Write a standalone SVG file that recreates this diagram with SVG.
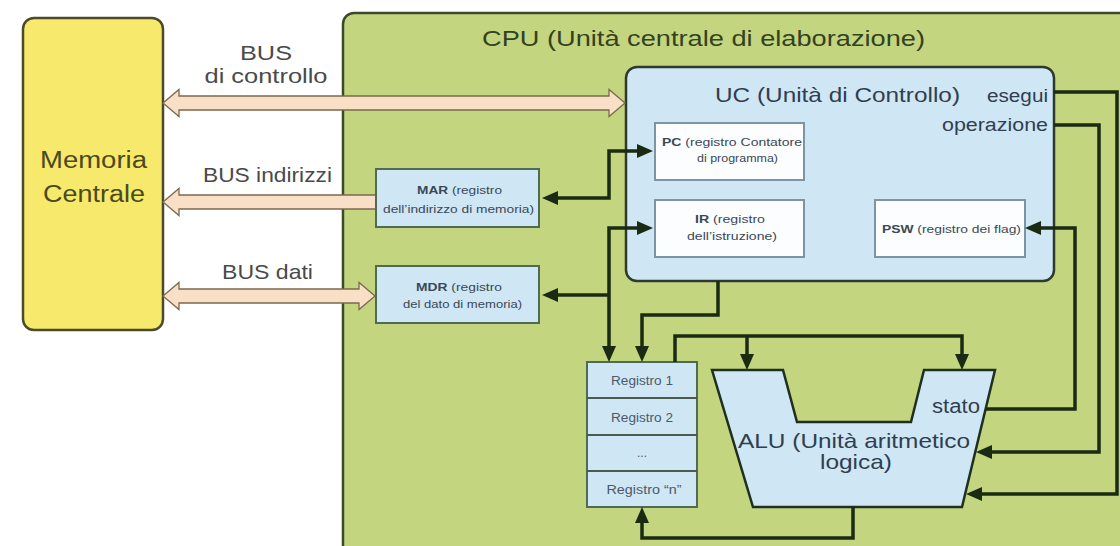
<svg xmlns="http://www.w3.org/2000/svg" width="1120" height="546" viewBox="0 0 1120 546">
  <style>
    .lbl { font-family: "Liberation Sans", Arial, sans-serif; }
    .big { font-size: 21px; }
    .small { font-size: 11.5px; fill: #3b4856; }
    .reg { font-size: 12px; fill: #4a5a6a; }
    .bus { fill: #f9dfc6; stroke: #7a6a50; stroke-width: 1.3; stroke-linejoin: miter; }
    .wire { fill: none; stroke: #1b2a12; stroke-width: 3.5; stroke-linejoin: miter; }
    .inner { fill: #fbfdff; stroke: #7f93a3; stroke-width: 2; }
    .blue { fill: #cfe6f5; stroke: #4f6a55; stroke-width: 2; }
  </style>
  <defs>
    <marker id="ah" viewBox="0 0 16 14" refX="6" refY="7" markerWidth="16" markerHeight="14" markerUnits="userSpaceOnUse" orient="auto-start-reverse">
      <path d="M0,0 L16,7 L0,14 z" fill="#1b2a12"/>
    </marker>
  </defs>

  <rect x="0" y="0" width="1120" height="546" fill="#ffffff"/>

  <!-- Main memory -->
  <g id="memoria">
    <rect x="23" y="18" width="140" height="312" rx="11" fill="#f7e96b" stroke="#4c4a2c" stroke-width="2.5"/>
    <text class="lbl" x="40" y="168" font-size="23" fill="#4b4a1e" textLength="107" lengthAdjust="spacingAndGlyphs">Memoria</text>
    <text class="lbl" x="43" y="202" font-size="23" fill="#4b4a1e" textLength="102" lengthAdjust="spacingAndGlyphs">Centrale</text>
  </g>

  <!-- CPU enclosure -->
  <g id="cpu">
    <rect x="343" y="13" width="800" height="560" rx="11" fill="#c3d67f" stroke="#3c4a28" stroke-width="2.5"/>
    <text class="lbl" x="482" y="46" font-size="22" fill="#34421e" textLength="443" lengthAdjust="spacingAndGlyphs">CPU (Unità centrale di elaborazione)</text>
  </g>

  <!-- Control unit -->
  <g id="uc">
    <rect x="626" y="67" width="428" height="214" rx="11" fill="#cfe6f5" stroke="#2e3a2e" stroke-width="2.5"/>
    <text class="lbl big" x="715" y="102" fill="#2f3f4f" textLength="245" lengthAdjust="spacingAndGlyphs">UC (Unità di Controllo)</text>
    <text class="lbl" x="987" y="102" font-size="18" fill="#2f3f4f" textLength="61" lengthAdjust="spacingAndGlyphs">esegui</text>
    <text class="lbl" x="942" y="131" font-size="18" fill="#2f3f4f" textLength="106" lengthAdjust="spacingAndGlyphs">operazione</text>
  </g>

  <g id="pc">
    <rect class="inner" x="655" y="123" width="149" height="57"/>
    <text class="lbl small" x="662" y="146" textLength="140" lengthAdjust="spacingAndGlyphs"><tspan font-weight="bold">PC</tspan> (registro Contatore</text>
    <text class="lbl small" x="697" y="162" textLength="81" lengthAdjust="spacingAndGlyphs">di programma)</text>
  </g>

  <g id="ir">
    <rect class="inner" x="655" y="200" width="149" height="57"/>
    <text class="lbl small" x="695" y="223" textLength="70" lengthAdjust="spacingAndGlyphs"><tspan font-weight="bold">IR</tspan> (registro</text>
    <text class="lbl small" x="687" y="240" textLength="90" lengthAdjust="spacingAndGlyphs">dell’istruzione)</text>
  </g>

  <g id="psw">
    <rect class="inner" x="875" y="200" width="150" height="57"/>
    <text class="lbl small" x="882" y="233" textLength="139" lengthAdjust="spacingAndGlyphs"><tspan font-weight="bold">PSW</tspan> (registro dei flag)</text>
  </g>

  <!-- Buses between memory and CPU -->
  <g id="buses">
    <polygon class="bus" points="163,103 179,89.5 179,96 609,96 609,89.5 625,103 609,116.5 609,110 179,110 179,116.5"/>
    <polygon class="bus" points="163,202 179,188.5 179,195 377,195 377,209 179,209 179,215.5"/>
    <polygon class="bus" points="163,296 179,282.5 179,289 359,289 359,282.5 375,296 359,309.5 359,303 179,303 179,309.5"/>
    <text class="lbl" x="266" y="60" text-anchor="middle" font-size="21" fill="#4a4a4a" textLength="52" lengthAdjust="spacingAndGlyphs">BUS</text>
    <text class="lbl" x="266" y="83" text-anchor="middle" font-size="21" fill="#4a4a4a" textLength="123" lengthAdjust="spacingAndGlyphs">di controllo</text>
    <text class="lbl" x="203" y="182" font-size="21" fill="#4a4a4a" textLength="129" lengthAdjust="spacingAndGlyphs">BUS indirizzi</text>
    <text class="lbl" x="222" y="279" font-size="21" fill="#4a4a4a" textLength="91" lengthAdjust="spacingAndGlyphs">BUS dati</text>
  </g>

  <g id="mar">
    <rect class="blue" x="376" y="169" width="163" height="58"/>
    <text class="lbl small" x="417" y="194" textLength="85" lengthAdjust="spacingAndGlyphs"><tspan font-weight="bold">MAR</tspan> (registro</text>
    <text class="lbl small" x="383" y="213" textLength="151" lengthAdjust="spacingAndGlyphs">dell’indirizzo di memoria)</text>
  </g>

  <g id="mdr">
    <rect class="blue" x="376" y="266" width="163" height="57"/>
    <text class="lbl small" x="416" y="291" textLength="86" lengthAdjust="spacingAndGlyphs"><tspan font-weight="bold">MDR</tspan> (registro</text>
    <text class="lbl small" x="403" y="308" textLength="119" lengthAdjust="spacingAndGlyphs">del dato di memoria)</text>
  </g>

  <!-- General purpose register file -->
  <g id="registri">
    <rect class="blue" x="587" y="362" width="110" height="145" stroke="#4a5a50"/>
    <line x1="587" y1="398" x2="697" y2="398" stroke="#4a5a50" stroke-width="2"/>
    <line x1="587" y1="435" x2="697" y2="435" stroke="#4a5a50" stroke-width="2"/>
    <line x1="587" y1="471" x2="697" y2="471" stroke="#4a5a50" stroke-width="2"/>
    <text class="lbl reg" x="642" y="385" text-anchor="middle" textLength="62" lengthAdjust="spacingAndGlyphs">Registro 1</text>
    <text class="lbl reg" x="642" y="422" text-anchor="middle" textLength="62" lengthAdjust="spacingAndGlyphs">Registro 2</text>
    <text class="lbl reg" x="642" y="457" text-anchor="middle">...</text>
    <text class="lbl reg" x="644" y="494" text-anchor="middle" textLength="75" lengthAdjust="spacingAndGlyphs">Registro “n”</text>
  </g>

  <!-- Arithmetic logic unit -->
  <g id="alu">
    <polygon points="712,370 783,370 797,422 911,422 924,370 995,370 962,507 753,507" fill="#cfe6f5" stroke="#1f3020" stroke-width="2.5" stroke-linejoin="miter"/>
    <text class="lbl" x="932" y="413" font-size="20" fill="#2f3f4f" textLength="48" lengthAdjust="spacingAndGlyphs">stato</text>
    <text class="lbl big" x="738" y="448" fill="#2f3f4f" textLength="232" lengthAdjust="spacingAndGlyphs">ALU (Unità aritmetico</text>
    <text class="lbl big" x="820" y="469" fill="#2f3f4f" textLength="72" lengthAdjust="spacingAndGlyphs">logica)</text>
  </g>

  <!-- Internal data and control paths -->
  <g id="connettori">
    <path class="wire" d="M552,198 H609 V151 H643" marker-start="url(#ah)" marker-end="url(#ah)"/>
    <path class="wire" d="M643,228 H609 V352" marker-start="url(#ah)" marker-end="url(#ah)"/>
    <path class="wire" d="M609,295 H552" marker-end="url(#ah)"/>
    <path class="wire" d="M718,281 V315 H642 V352" marker-end="url(#ah)"/>
    <path class="wire" d="M675,362 V336 H962 V360" marker-end="url(#ah)"/>
    <path class="wire" d="M747,336 V360" marker-end="url(#ah)"/>
    <path class="wire" d="M853,507 V538 H642 V517" marker-end="url(#ah)"/>
    <path class="wire" d="M1054,92 H1117 V494 H976" marker-end="url(#ah)"/>
    <path class="wire" d="M1054,125 H1099 V452 H986" marker-end="url(#ah)"/>
    <path class="wire" d="M986,409 H1075 V228 H1035" marker-end="url(#ah)"/>
  </g>
</svg>
